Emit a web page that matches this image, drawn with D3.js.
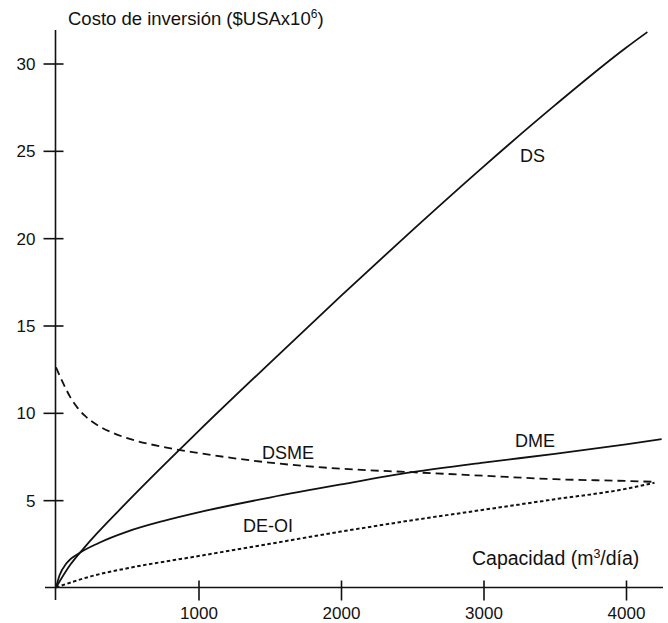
<!DOCTYPE html>
<html>
<head>
<meta charset="utf-8">
<script src="https://cdn.jsdelivr.net/npm/d3@7"></script>
<style>
  html, body { margin: 0; padding: 0; background: #fff; }
  svg { display: block; }
  text { font-family: "Liberation Sans", Arial, Helvetica, sans-serif; fill: #111; }
</style>
</head>
<body>
<svg id="chart" width="668" height="623"></svg>
<script>
// ---- data ----
const dsX   = [0, 100, 200, 500, 1000, 1500, 2000, 2500, 3000, 3500, 4000, 4150];
const dsY   = [0, 1.3, 2.3, 4.9, 8.95, 12.85, 16.7, 20.45, 24.1, 27.6, 30.9, 31.8];

const dmeX  = [0, 25, 75, 170, 300, 500, 750, 1000, 1500, 2000, 2500, 3000, 3500, 4000, 4250];
const dmeY  = [0, 0.7, 1.4, 2.0, 2.55, 3.2, 3.8, 4.3, 5.15, 5.9, 6.6, 7.15, 7.65, 8.2, 8.5];

const dsmeX = [0, 50, 100, 150, 200, 300, 400, 500, 750, 1000, 1500, 2000, 2500, 3000, 3500, 4000, 4200];
const dsmeY = [12.6, 11.7, 10.9, 10.3, 9.85, 9.25, 8.85, 8.55, 8.05, 7.7, 7.15, 6.8, 6.6, 6.4, 6.2, 6.1, 6.05];

const deoiX = [0, 250, 500, 1000, 1500, 2000, 2500, 3000, 3500, 4000, 4200];
const deoiY = [0, 0.65, 1.1, 1.8, 2.5, 3.2, 3.85, 4.45, 5.05, 5.65, 6.0];

const xTicks = [1000, 2000, 3000, 4000];
const yTicks = [5, 10, 15, 20, 25, 30];

const seriesNames = ["DS", "DME", "DSME", "DE-OI"];

// ---- layout ----
const svg = d3.select("#chart");
const x = d3.scaleLinear().domain([0, 4000]).range([56, 626]);
const y = d3.scaleLinear().domain([0, 30]).range([587.5, 63.5]);

// axes
const xAxis = d3.axisBottom(x).tickValues(xTicks).tickSize(0).tickFormat(d3.format("d"));
const gx = svg.append("g").attr("transform", `translate(0,${y(0)})`).call(xAxis);
gx.select(".domain").remove();
gx.selectAll(".tick text").attr("dy", null).attr("y", 31).attr("font-size", 17)
  .attr("font-family", "Liberation Sans, Arial, sans-serif").attr("fill", "#111");
gx.selectAll(".tick").append("line").attr("y1", -7).attr("y2", 13)
  .attr("stroke", "#111").attr("stroke-width", 1.6);
svg.append("line").attr("x1", 45).attr("x2", 663).attr("y1", y(0)).attr("y2", y(0))
  .attr("stroke", "#111").attr("stroke-width", 1.6);

const yAxis = d3.axisLeft(y).tickValues(yTicks).tickSize(0).tickFormat(d3.format("d"));
const gy = svg.append("g").attr("transform", `translate(${x(0) - 0.5},0)`).call(yAxis);
gy.select(".domain").remove();
gy.selectAll(".tick text").attr("x", -20).attr("dy", "0.36em").attr("font-size", 17)
  .attr("font-family", "Liberation Sans, Arial, sans-serif").attr("fill", "#111");
gy.selectAll(".tick").append("line").attr("x1", -12).attr("x2", 8)
  .attr("stroke", "#111").attr("stroke-width", 1.6);
svg.append("line").attr("x1", x(0) - 0.5).attr("x2", x(0) - 0.5).attr("y1", 30).attr("y2", 600)
  .attr("stroke", "#111").attr("stroke-width", 1.6);

// curves
const line = d3.line().x(d => x(d[0])).y(d => y(d[1])).curve(d3.curveMonotoneX);
function draw(xs, ys, dash, w) {
  svg.append("path").datum(xs.map((v, i) => [v, ys[i]]))
    .attr("d", line).attr("fill", "none").attr("stroke", "#111")
    .attr("stroke-width", w).attr("stroke-dasharray", dash);
}
draw(dsX, dsY, null, 1.8);
draw(dmeX, dmeY, null, 1.8);
draw(dsmeX, dsmeY, "8,5", 1.8);
draw(deoiX, deoiY, "3.5,2.5", 2);

// series labels
const labelPos = [[520, 162], [515, 447], [262, 459], [243, 532]];
seriesNames.forEach((n, i) => {
  svg.append("text").attr("x", labelPos[i][0]).attr("y", labelPos[i][1])
    .attr("font-size", 18).text(n);
});

// titles
const t = svg.append("text").attr("x", 68).attr("y", 25).attr("font-size", 18.5);
t.append("tspan").text("Costo de inversión ($USAx10");
t.append("tspan").attr("dy", -7).attr("font-size", 12).text("6");
t.append("tspan").attr("dy", 7).text(")");

const c = svg.append("text").attr("x", 472).attr("y", 565).attr("font-size", 19.5);
c.append("tspan").text("Capacidad (m");
c.append("tspan").attr("dy", -7).attr("font-size", 12.5).text("3");
c.append("tspan").attr("dy", 7).text("/día)");
</script>
</body>
</html>
